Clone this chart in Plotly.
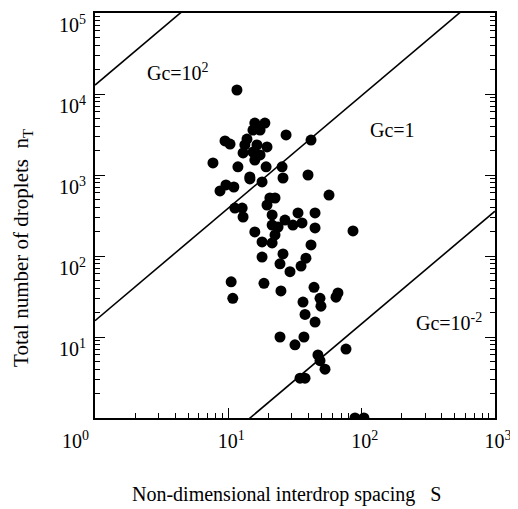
import math
import plotly.graph_objects as go

# Data
S = [11.6, 15.8, 18.8, 15.3, 17.3, 27.1, 41.7, 9.44, 10.3, 13.8,
     13.3, 16.4, 19.5, 12.9, 15.3, 17.3, 15.8, 7.67, 11.8, 19.2,
     25.3, 14.5, 25.7, 39.6, 8.66, 9.60, 11.0, 14.5, 17.9, 11.2,
     12.7, 12.9, 20.5, 22.4, 19.5, 56.9, 21.3, 26.6, 30.5, 33.3,
     44.7, 35.7, 44.7, 21.3, 23.6, 22.4, 15.8, 17.9, 21.3, 86.1,
     41.7, 17.9, 25.7, 38.2, 24.4, 35.1, 29.0, 10.5, 18.5, 10.8,
     24.8, 43.9, 48.7, 36.3, 49.5, 66.4, 64.2, 37.6, 44.7, 24.4,
     31.6, 36.9, 76.3, 47.0, 48.7, 53.1, 34.5, 37.6, 89.1, 104]
nT = [11200, 4380, 4380, 3590, 3590, 3120, 2700, 2630, 2410, 2780,
      2350, 2350, 2220, 1870, 1920, 1770, 1530, 1410, 1260, 1260,
      1260, 945, 918, 1000, 635, 753, 711, 893, 820, 391,
      391, 303, 520, 520, 426, 566, 321, 278, 241, 340,
      340, 256, 222, 241, 228, 182, 198, 149, 145, 204,
      137, 97, 106, 94, 80, 75, 64, 48, 46, 30,
      37, 41, 30, 27, 24, 35, 31, 19, 15.3, 10,
      8.0, 10, 7.1, 6.0, 5.1, 4.0, 3.1, 3.1, 1, 1]

# Group combustion number lines: nT at S = 1 for each Gc, common log-log slope
gc_labels = ["Gc=10<sup>2</sup>", "Gc=1", "Gc=10<sup>-2</sup>"]
nT_at_S1 = [12900, 15.9, 0.0242]
slope = 1.39
S_line = [1, 1000]

# label positions (data values)
label_S = [4.2, 170, 452]
label_nT = [18600, 3600, 15.3]

x_ticks = [1, 10, 100, 1000]
x_text = ["10<sup>0</sup>" + "\u00a0" * 9, "10<sup>1</sup>", "10<sup>2</sup>", "10<sup>3</sup>"]
y_ticks = [10, 100, 1000, 10000, 100000]
y_text = ["10<sup>1</sup>", "10<sup>2</sup>", "10<sup>3</sup>", "10<sup>4</sup>", "10<sup>5</sup>"]

FONT = "Liberation Serif"

fig = go.Figure()
for c in nT_at_S1:
    fig.add_trace(go.Scatter(
        x=S_line, y=[c * s ** slope for s in S_line], mode="lines",
        line=dict(color="black", width=1.6), showlegend=False, hoverinfo="skip"))

fig.add_trace(go.Scatter(
    x=S, y=nT, mode="markers",
    marker=dict(color="black", size=11, line=dict(width=0)),
    showlegend=False))

for t, xs, ys in zip(gc_labels, label_S, label_nT):
    fig.add_annotation(x=math.log10(xs), y=math.log10(ys), xref="x", yref="y",
                       text=t, showarrow=False,
                       font=dict(family=FONT, size=20, color="black"))

# axis titles
fig.add_annotation(x=0.4775, y=-0.19, xref="paper", yref="paper",
                   text="Non-dimensional interdrop spacing\u00a0\u00a0\u00a0S",
                   showarrow=False, xanchor="center", yanchor="middle",
                   font=dict(family=FONT, size=20, color="black"))
fig.add_annotation(x=-0.1825, y=0.42, xref="paper", yref="paper",
                   text="Total number of droplets\u00a0\u00a0n<sub>T</sub>",
                   showarrow=False, xanchor="center", yanchor="middle", textangle=-90,
                   font=dict(family=FONT, size=21, color="black"))

axis_common = dict(
    type="log", showgrid=False, zeroline=False,
    showline=True, linecolor="black", linewidth=2,
    ticks="inside", ticklen=10, tickwidth=1.3, tickcolor="black",
    tickfont=dict(family=FONT, size=20, color="black"),
    ticklabeloverflow="allow",
    minor=dict(dtick="D1", ticks="inside", ticklen=5, tickwidth=1.2,
               tickcolor="black", showgrid=False),
)

fig.update_xaxes(
    **axis_common, range=[0, 3], tickmode="array", tickvals=x_ticks, ticktext=x_text,
    mirror=True, ticklabelstandoff=4, ticklabelshift=3)
fig.update_yaxes(
    **axis_common, range=[0, 5], tickmode="array", tickvals=y_ticks, ticktext=y_text,
    mirror="ticks", ticklabelshift=12, ticklabelstandoff=3)

fig.update_layout(
    width=510, height=501,
    margin=dict(l=87, r=23, t=5, b=91, autoexpand=False),
    plot_bgcolor="white", paper_bgcolor="white",
)

fig.write_html("out.html")
